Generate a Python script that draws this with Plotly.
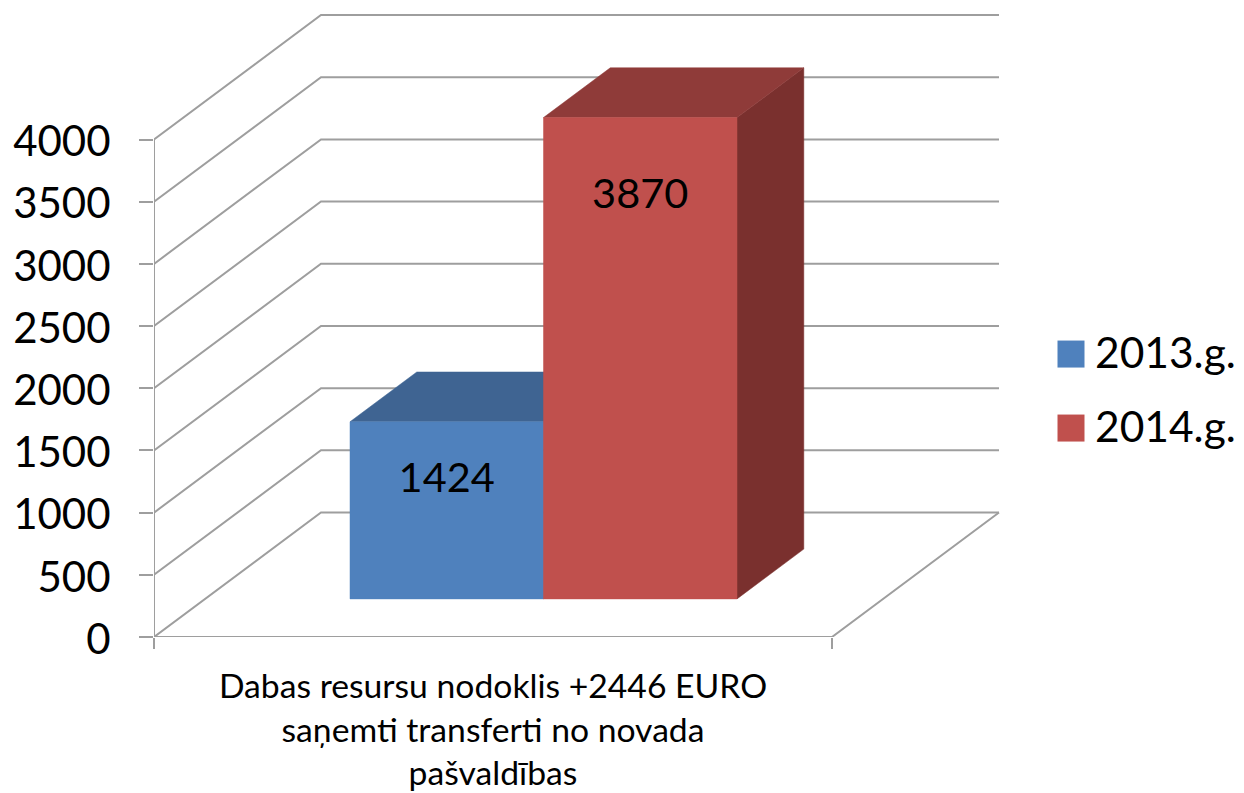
import plotly.graph_objects as go

# ---- data ----
categories = ["Dabas resursu nodoklis +2446 EURO<br>saņemti transferti no novada<br>pašvaldības"]
series_names = ["2013.g.", "2014.g."]
values_2013 = [1424]
values_2014 = [3870]
value_ticks = [0, 500, 1000, 1500, 2000, 2500, 3000, 3500, 4000]

# ---- projection / styling constants (axis units) ----
PX_X = 678.0            # pixels per x unit
PX_Y = 0.124375         # pixels per value unit
WALL_DX = 167 / PX_X    # depth vector of the whole floor
WALL_DY = 124.5 / PX_Y
BAR_D0 = 0.306          # depth fraction of bar front
BAR_D1 = 0.706          # depth fraction of bar back
BAR_X0 = (350 - 154 - 0.306 * 167) / PX_X
BAR_W = 193.5 / PX_X
GRID = "#9E9E9E"
FONT = "Lato, Carlito, 'Open Sans', sans-serif"
BLUE, BLUE_TOP, BLUE_SIDE = "#4F81BD", "#3F6492", "#3A5C87"
RED, RED_TOP, RED_SIDE = "#C0504D", "#8F3B39", "#7A302E"
LABEL_Y = [1246, 3530]
LEGEND_X = 917 / PX_X
LEGEND_TEXT_X = 941 / PX_X
LEGEND_Y = [2275, 1680]
LEGEND_TEXT_DY = -28


def proj(x, v, d):
    return x + d * WALL_DX, v + d * WALL_DY


def poly(points, color, name):
    xs, ys = zip(*[proj(*p) for p in points])
    return go.Scatter(x=list(xs) + [xs[0]], y=list(ys) + [ys[0]], mode="lines", fill="toself",
                      fillcolor=color, line=dict(color=color, width=0.5), hoverinfo="skip",
                      showlegend=False, name=name)


fig = go.Figure()

# walls: one path per gridline (left wall diagonal + back wall horizontal)
for t in value_ticks:
    fig.add_trace(go.Scatter(
        x=[proj(0, t, 0)[0], proj(0, t, 1)[0], proj(1, t, 1)[0]],
        y=[proj(0, t, 0)[1], proj(0, t, 1)[1], proj(1, t, 1)[1]],
        mode="lines", line=dict(color=GRID, width=2), hoverinfo="skip", showlegend=False))

# floor edges and vertical axis
fig.add_trace(go.Scatter(
    x=[proj(0, 0, 0)[0], proj(1, 0, 0)[0], proj(1, 0, 1)[0]],
    y=[proj(0, 0, 0)[1], proj(1, 0, 0)[1], proj(1, 0, 1)[1]],
    mode="lines", line=dict(color=GRID, width=2), hoverinfo="skip", showlegend=False))
fig.add_trace(go.Scatter(x=[0, 0], y=[value_ticks[0], value_ticks[-1]], mode="lines",
                         line=dict(color=GRID, width=2), hoverinfo="skip", showlegend=False))


def add_bar(i, value, front, top, side):
    x0, x1 = BAR_X0 + i * BAR_W, BAR_X0 + (i + 1) * BAR_W
    fig.add_trace(poly([(x1, 0, BAR_D0), (x1, 0, BAR_D1), (x1, value, BAR_D1), (x1, value, BAR_D0)], side, "side"))
    fig.add_trace(poly([(x0, value, BAR_D0), (x1, value, BAR_D0), (x1, value, BAR_D1), (x0, value, BAR_D1)], top, "top"))
    fig.add_trace(poly([(x0, 0, BAR_D0), (x1, 0, BAR_D0), (x1, value, BAR_D0), (x0, value, BAR_D0)], front, series_names[i]))


add_bar(0, values_2013[0], BLUE, BLUE_TOP, BLUE_SIDE)
add_bar(1, values_2014[0], RED, RED_TOP, RED_SIDE)

# data labels
for i, v in enumerate([values_2013[0], values_2014[0]]):
    fig.add_trace(go.Scatter(
        x=[BAR_X0 + (i + 0.5) * BAR_W + BAR_D0 * WALL_DX], y=[LABEL_Y[i]], mode="text", text=[str(v)],
        textposition="middle center", textfont=dict(family=FONT, size=41.5, color="#000"),
        hoverinfo="skip", showlegend=False))

# legend entries (swatch + text, larger than the native legend allows)
for name, color, ly in zip(series_names, [BLUE, RED], LEGEND_Y):
    fig.add_trace(go.Scatter(x=[LEGEND_X], y=[ly], mode="markers", name=name, hoverinfo="skip",
                             marker=dict(symbol="square", size=27, color=color), showlegend=False))
    fig.add_trace(go.Scatter(x=[LEGEND_TEXT_X], y=[ly + LEGEND_TEXT_DY], mode="text", text=[name],
                             textposition="middle right", hoverinfo="skip",
                             textfont=dict(family=FONT, size=42.5, color="#000"), showlegend=False))

fig.update_layout(
    width=1244, height=793, autosize=False,
    margin=dict(l=154, r=0, t=10, b=156),
    paper_bgcolor="white", plot_bgcolor="white",
    font=dict(family=FONT, color="#000"),
    xaxis=dict(range=[0, 1090 / PX_X], showgrid=False, zeroline=False, showline=False, automargin=False,
               tickmode="array", tickvals=[0.5], ticktext=categories, ticks="",
               tickfont=dict(family=FONT, size=33.7), ticklabelstandoff=26,
               minor=dict(tickmode="array", tickvals=[0, 1], ticks="outside", ticklen=11,
                          tickcolor=GRID, tickwidth=2)),
    yaxis=dict(range=[0, 627 / PX_Y], showgrid=False, zeroline=False, showline=False, automargin=False,
               tickmode="array", tickvals=value_ticks, ticks="outside", ticklen=14,
               tickcolor=GRID, tickwidth=2, tickfont=dict(family=FONT, size=42),
               ticklabelstandoff=20, ticklabelshift=2),
    showlegend=False,
)

fig.write_html("out.html", post_script="document.body.style.margin='0';",
               config={"displayModeBar": False})
